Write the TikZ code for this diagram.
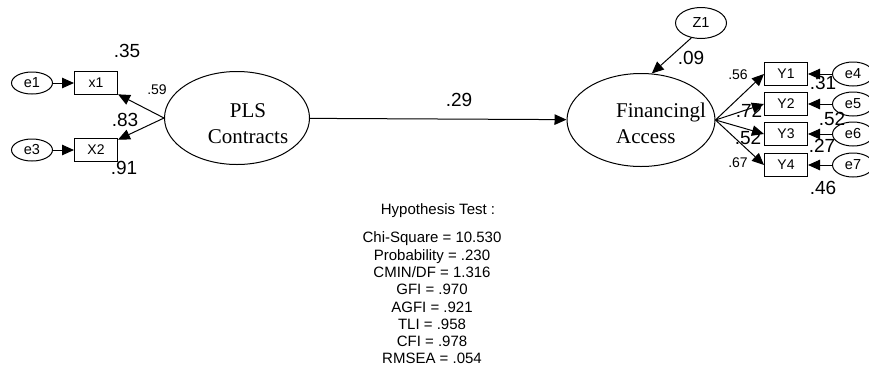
\documentclass[tikz,border=0pt]{standalone}
\usepackage{fontspec}
\setmainfont{Liberation Serif}
\setsansfont{Liberation Sans}
\usetikzlibrary{shapes,arrows.meta}

\begin{document}
\begin{tikzpicture}[x=1pt,y=-1pt,line width=1pt,>={Triangle[length=12pt,width=10.5pt]}]
\useasboundingbox (0,0) rectangle (869,373);
\tikzstyle{every node}=[font=\sffamily]
\tikzstyle{obs}=[draw,rectangle,minimum width=43pt,minimum height=23pt,inner sep=0pt,font=\sffamily\fontsize{14}{15}\selectfont]
\tikzstyle{err}=[draw,ellipse,minimum width=41pt,minimum height=22pt,inner sep=0pt,font=\sffamily\fontsize{14.5}{15}\selectfont]
\tikzstyle{lat}=[draw,ellipse,minimum width=145pt,minimum height=93pt]
\tikzstyle{lattext}=[font=\rmfamily\fontsize{21}{26}\selectfont,inner sep=0pt]
\tikzstyle{big}=[font=\sffamily\fontsize{19}{20}\selectfont,inner sep=0pt]
\tikzstyle{small}=[font=\sffamily\fontsize{14}{15}\selectfont,inner sep=0pt]

% latent variables
\draw node[lat] (pls) at (237,118) {};
\draw node[lattext,align=center] (plstext) at (248,124) {PLS\\Contracts};
\draw node[lat,minimum width=148pt] (fa) at (641,120) {};
\draw node[lattext,align=left] (fatext) at (661,123) {Financingl\\Access};
\draw node[err,minimum width=51pt,minimum height=31pt] (z1) at (701,23) {Z1};

% indicators
\draw node[obs] (x1) at (96,83) {x1};
\draw node[obs] (x2) at (96,150) {X2};
\draw node[err] (e1) at (32,83) {e1};
\draw node[err] (e3) at (32,150) {e3};
\draw node foreach \i/\y in {1/74,2/104,3/134,4/165} [obs] (y\i) at (786,\y) {Y\i};
\draw node foreach \i/\y in {4/74,5/104,6/134,7/165} [err,minimum height=24pt] (e\i) at (853,\y) {e\i};

\draw[->] (e1) -- (x1);
\draw[->] (e3) -- (x2);
\draw[->] (pls.west) -- (x1);
\draw[->] (pls.west) -- (x2);
\draw[->] (pls) -- (fa);
\draw[->] (z1.237) -- (fa.77);
\foreach \i in {1,...,4} \draw[->] (fa.east) -- (y\i.west);
\foreach \e/\i in {4/1,5/2,6/3,7/4} \draw[->] (e\e) -- (y\i);

% estimates
\node[big] (w35) at (127,51) {.35};
\node[small] (w59) at (157,90) {.59};
\node[big] (w83) at (125,120) {.83};
\node[big] (w91) at (124,168) {.91};
\node[big] (w29) at (459,100) {.29};
\node[big] (w09) at (691,58) {.09};
\node[small] (w56) at (738,75) {.56};
\node[big] (w72) at (749,111) {.72};
\node[big] (w52a) at (748,138) {.52};
\node[small] (w67) at (738,163) {.67};
\node[big] (w31) at (823,83) {.31};
\node[big] (w52b) at (832,119) {.52};
\node[big] (w27) at (822,146) {.27};
\node[big] (w46) at (823,188) {.46};

\node[font=\sffamily\fontsize{15}{17.3}\selectfont] (hyp) at (438,211) {Hypothesis Test :};
\node[font=\sffamily\fontsize{15}{17.3}\selectfont,align=center] (fit) at (432,298) {Chi-Square = 10.530\\Probability = .230\\CMIN/DF = 1.316\\GFI = .970\\AGFI = .921\\TLI = .958\\CFI = .978\\RMSEA = .054};
\end{tikzpicture}
\end{document}
